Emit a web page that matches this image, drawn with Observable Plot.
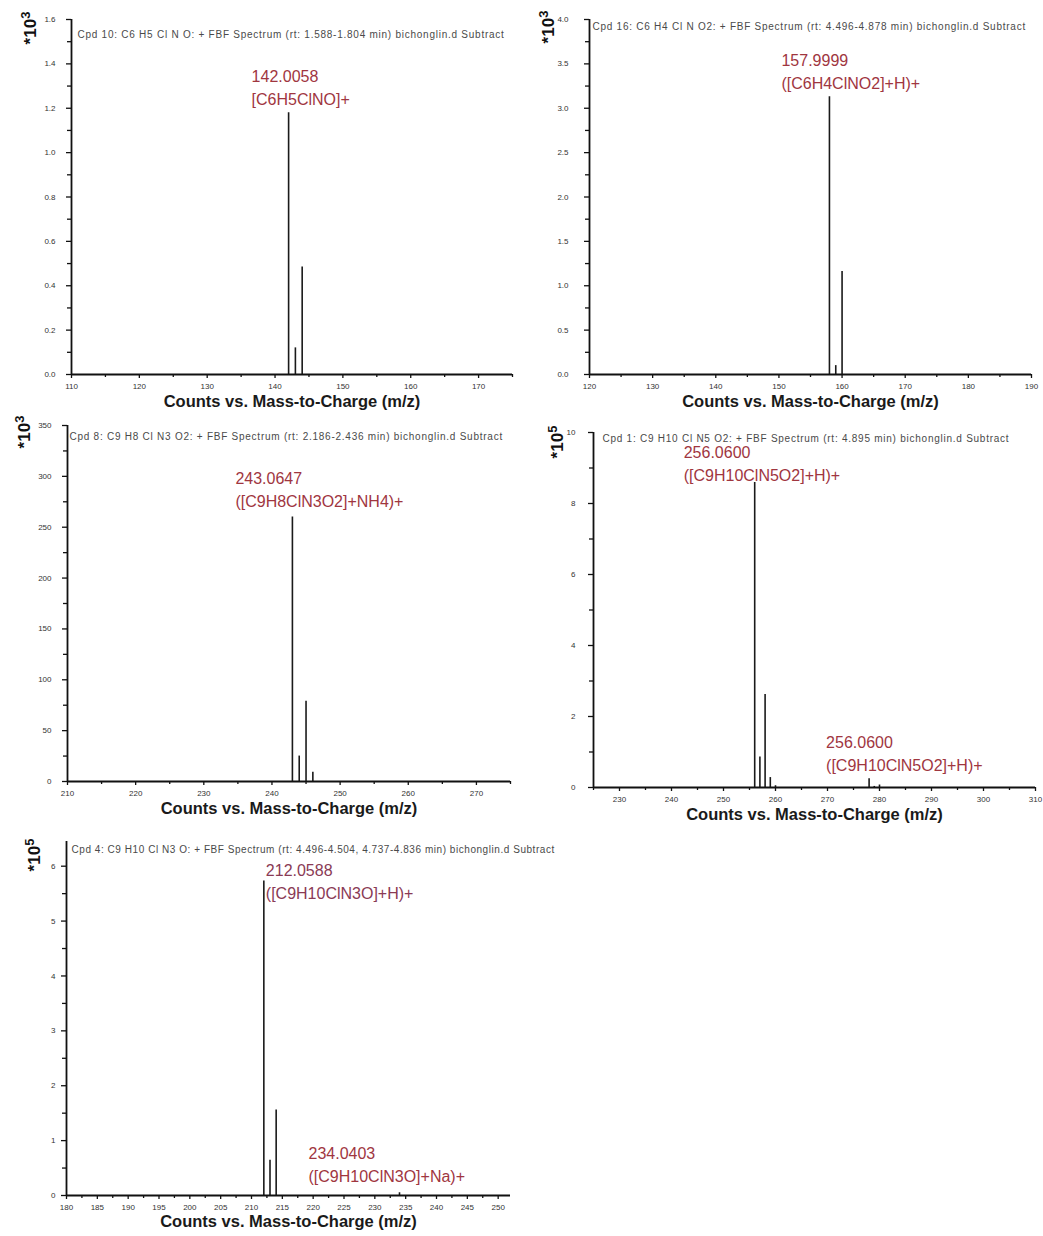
<!DOCTYPE html>
<html>
<head>
<meta charset="utf-8">
<script src="https://cdn.jsdelivr.net/npm/d3@7"></script>
<script src="https://cdn.jsdelivr.net/npm/@observablehq/plot@0.6"></script>
<style>
  body { margin: 0; background: #fff; }
  #page { position: relative; width: 1043px; height: 1236px; overflow: hidden; background: #fff;
          font-family: "Liberation Sans", Arial, sans-serif; }
  .panel { position: absolute; }
  .panel svg { overflow: visible; }
  .expo { position: absolute; font-weight: bold; font-size: 17px; color: #111; white-space: nowrap;
          transform: translate(-50%, -50%) rotate(-90deg); line-height: 1; }
  .expo sup { font-size: 13px; }
</style>
</head>
<body>
<div id="page"></div>
<script>
// ---------------- DATA ----------------
const panelTitles = [
  "Cpd 10: C6 H5 Cl N O: + FBF Spectrum (rt: 1.588-1.804 min) bichonglin.d Subtract",
  "Cpd 16: C6 H4 Cl N O2: + FBF Spectrum (rt: 4.496-4.878 min) bichonglin.d Subtract",
  "Cpd 8: C9 H8 Cl N3 O2: + FBF Spectrum (rt: 2.186-2.436 min) bichonglin.d Subtract",
  "Cpd 1: C9 H10 Cl N5 O2: + FBF Spectrum (rt: 4.895 min) bichonglin.d Subtract",
  "Cpd 4: C9 H10 Cl N3 O: + FBF Spectrum (rt: 4.496-4.504, 4.737-4.836 min) bichonglin.d Subtract"
];
const xAxisTitle = "Counts vs. Mass-to-Charge (m/z)";
const exponents = ["3", "3", "3", "5", "5"];

// peaks (m/z, counts in units of the panel's exponent)
const cpd10Mz = [142, 143, 144];
const cpd10Counts = [1.18, 0.12, 0.485];
const cpd16Mz = [158, 159, 160];
const cpd16Counts = [3.13, 0.10, 1.16];
const cpd8Mz = [243, 244, 245, 246];
const cpd8Counts = [260, 25, 79, 9];
const cpd1Mz = [256, 257, 258, 259, 260, 278, 279, 280];
const cpd1Counts = [8.59, 0.86, 2.62, 0.28, 0.05, 0.25, 0.03, 0.07];
const cpd4Mz = [212, 213, 214, 234];
const cpd4Counts = [5.73, 0.64, 1.56, 0.05];

// axis domains and ticks
const xDomains = [[110, 175], [120, 190], [210, 275], [225, 310], [180, 252]];
const yDomains = [[0, 1.6], [0, 4], [0, 350], [0, 10], [0, 6.45]];
const xMajorTicks = [
  [110, 120, 130, 140, 150, 160, 170],
  [120, 130, 140, 150, 160, 170, 180, 190],
  [210, 220, 230, 240, 250, 260, 270],
  [230, 240, 250, 260, 270, 280, 290, 300, 310],
  [180, 185, 190, 195, 200, 205, 210, 215, 220, 225, 230, 235, 240, 245, 250]
];
const xMinorTicks = [
  [115, 125, 135, 145, 155, 165, 175],
  [125, 135, 145, 155, 165, 175, 185],
  [215, 225, 235, 245, 255, 265, 275],
  [225, 235, 245, 255, 265, 275, 285, 295, 305],
  [182.5, 187.5, 192.5, 197.5, 202.5, 207.5, 212.5, 217.5, 222.5, 227.5, 232.5, 237.5, 242.5, 247.5]
];
const yMajorTicks = [
  [0, 0.2, 0.4, 0.6, 0.8, 1.0, 1.2, 1.4, 1.6],
  [0, 0.5, 1.0, 1.5, 2.0, 2.5, 3.0, 3.5, 4.0],
  [0, 50, 100, 150, 200, 250, 300, 350],
  [0, 2, 4, 6, 8, 10],
  [0, 1, 2, 3, 4, 5, 6]
];
const yMinorTicks = [
  [0.1, 0.3, 0.5, 0.7, 0.9, 1.1, 1.3, 1.5],
  [0.25, 0.75, 1.25, 1.75, 2.25, 2.75, 3.25, 3.75],
  [25, 75, 125, 175, 225, 275, 325],
  [1, 3, 5, 7, 9],
  [0.5, 1.5, 2.5, 3.5, 4.5, 5.5]
];
const yTickFormats = [".1f", ".1f", "d", "d", "d"];

// peak annotations
const annotationPanel = [0, 1, 2, 3, 3, 4, 4];
const annotationMz = [142, 158, 243, 256, 278, 212, 234];
const annotationCounts = [1.18, 3.13, 260, 8.59, 0.25, 5.73, 0.05];
const annotationMass = ["142.0058", "157.9999", "243.0647", "256.0600", "256.0600", "212.0588", "234.0403"];
const annotationIon = ["[C6H5ClNO]+", "([C6H4ClNO2]+H)+", "([C9H8ClN3O2]+NH4)+", "([C9H10ClN5O2]+H)+",
                       "([C9H10ClN5O2]+H)+", "([C9H10ClN3O]+H)+", "([C9H10ClN3O]+Na)+"];

// ---------------- LAYOUT / STYLE ----------------
const layout = [
  {left: 0,   top: 0,   width: 520, height: 415, mL: 71, mR: 8,  mT: 19, mB: 41, yPad: 11, titleDx: 6, titleDy: 11, xTitleDy: 32, expo: [29, 28]},
  {left: 520, top: 0,   width: 523, height: 415, mL: 69, mR: 12, mT: 19, mB: 41, yPad: 16, titleDx: 3, titleDy: 3,  xTitleDy: 32, expo: [27, 27]},
  {left: 0,   top: 415, width: 520, height: 410, mL: 67, mR: 10, mT: 10, mB: 44, yPad: 11, titleDx: 2, titleDy: 7,  xTitleDy: 32, expo: [23, 432 - 415]},
  {left: 520, top: 415, width: 523, height: 415, mL: 73, mR: 8,  mT: 17, mB: 43, yPad: 13, titleDx: 9, titleDy: 2,  xTitleDy: 32, expo: [36, 442 - 415]},
  {left: 0,   top: 825, width: 540, height: 411, mL: 66, mR: 30, mT: 16, mB: 41, yPad: 6,  titleDx: 5, titleDy: 4,  xTitleDy: 31, expo: [33, 855 - 825]}
];
const titleLetterSpacing = [0.75, 0.75, 0.75, 0.75, 0.55];
const annotationStyle = [
  {dx: -37, dy: -13, color: "#a0363f"},
  {dx: -48, dy: -13, color: "#a0363f"},
  {dx: -57, dy: -15, color: "#a0363f"},
  {dx: -71, dy: -7,  color: "#a0363f"},
  {dx: -43, dy: -13, color: "#a0363f"},
  {dx: 2,   dy: 13,  color: "#8a3a55"},
  {dx: -91, dy: -16, color: "#a0363f"}
];
const lineGap = 23;

const peakSets = [
  [cpd10Mz, cpd10Counts], [cpd16Mz, cpd16Counts], [cpd8Mz, cpd8Counts],
  [cpd1Mz, cpd1Counts], [cpd4Mz, cpd4Counts]
];

const page = document.getElementById("page");

peakSets.forEach(([mz, counts], p) => {
  const L = layout[p];
  const peaks = mz.map((m, i) => ({mz: m, counts: counts[i]}));
  const fmt = d3.format(yTickFormats[p]);
  const marks = [
    Plot.ruleX(peaks, {x: "mz", y1: 0, y2: "counts", stroke: "#1a1a1a", strokeWidth: 1.6}),
    Plot.axisY({ticks: yMajorTicks[p], tickSize: 5, tickPadding: L.yPad, tickFormat: fmt, label: null,
                fontSize: 8, fill: "#333", stroke: "#111", strokeWidth: 1.3}),
    Plot.axisY({ticks: yMinorTicks[p], tickSize: 4, tickFormat: () => "", label: null,
                stroke: "#111", strokeWidth: 1.3}),
    Plot.axisX({ticks: xMajorTicks[p], tickSize: 4, tickPadding: 5, tickFormat: d3.format("d"), label: null,
                fontSize: 8, fill: "#333", stroke: "#111", strokeWidth: 1.3}),
    Plot.axisX({ticks: xMinorTicks[p], tickSize: 3, tickFormat: () => "", label: null,
                stroke: "#111", strokeWidth: 1.3}),
    Plot.ruleX([xDomains[p][0]], {stroke: "#111", strokeWidth: 1.8}),
    Plot.ruleY([0], {stroke: "#111", strokeWidth: 1.8}),
    Plot.text([panelTitles[p]], {frameAnchor: "top-left", textAnchor: "start", dx: L.titleDx, dy: L.titleDy,
                fontSize: 10, fill: "#4a4a4a"}),
    Plot.text([xAxisTitle], {frameAnchor: "bottom", dy: L.xTitleDy, fontSize: 16.5, fontWeight: "bold", fill: "#1a1a1a"})
  ];
  annotationPanel.forEach((ap, a) => {
    if (ap !== p) return;
    const S = annotationStyle[a];
    const row = [{mz: annotationMz[a], counts: annotationCounts[a]}];
    marks.push(Plot.text(row, {x: "mz", y: "counts", text: () => annotationMass[a], textAnchor: "start",
      dx: S.dx, dy: S.dy - lineGap, fontSize: 16, fill: S.color}));
    marks.push(Plot.text(row, {x: "mz", y: "counts", text: () => annotationIon[a], textAnchor: "start",
      dx: S.dx, dy: S.dy, fontSize: 16, fill: S.color}));
  });

  const chart = Plot.plot({
    width: L.width, height: L.height,
    marginLeft: L.mL, marginRight: L.mR, marginTop: L.mT, marginBottom: L.mB,
    x: {domain: xDomains[p]},
    y: {domain: yDomains[p]},
    style: {fontFamily: "'Liberation Sans', Arial, sans-serif", background: "transparent", overflow: "visible"},
    marks
  });
  chart.querySelectorAll("text").forEach(t => {
    if (t.textContent === panelTitles[p]) t.style.letterSpacing = titleLetterSpacing[p] + "px";
  });
  const div = document.createElement("div");
  div.className = "panel";
  div.style.left = L.left + "px";
  div.style.top = L.top + "px";
  div.appendChild(chart);
  page.appendChild(div);

  const e = document.createElement("div");
  e.className = "expo";
  e.style.left = (L.left + L.expo[0]) + "px";
  e.style.top = (L.top + L.expo[1]) + "px";
  e.innerHTML = "*10<sup>" + exponents[p] + "</sup>";
  page.appendChild(e);
});
</script>
</body>
</html>
